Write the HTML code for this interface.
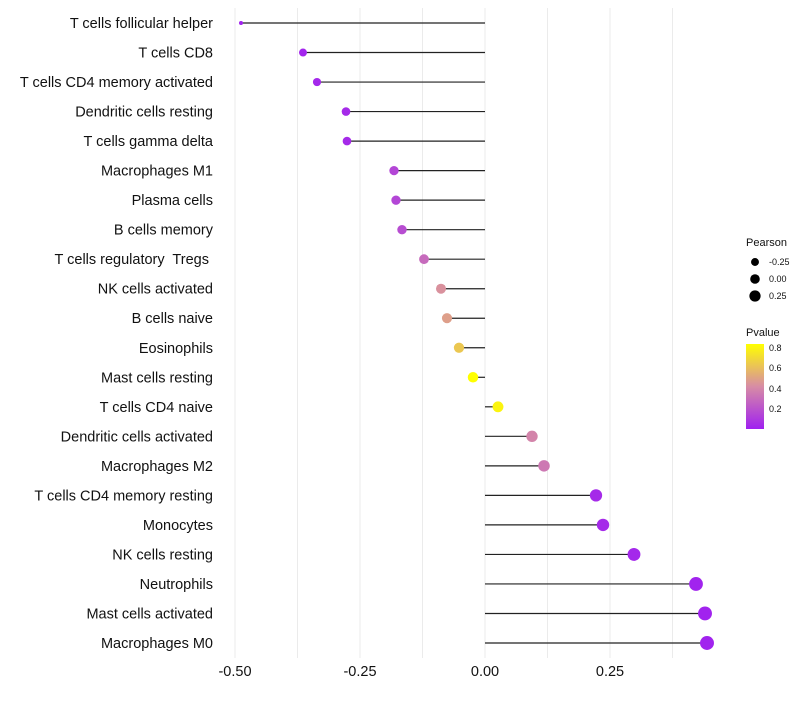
<!DOCTYPE html>
<html><head><meta charset="utf-8"><style>
body{margin:0;background:#fff;font-family:"Liberation Sans",sans-serif}
text{white-space:pre}
</style></head><body>
<svg id="c" width="800" height="700"></svg>
<script>
const categories=["T cells follicular helper","T cells CD8","T cells CD4 memory activated","Dendritic cells resting","T cells gamma delta","Macrophages M1","Plasma cells","B cells memory","T cells regulatory  Tregs ","NK cells activated","B cells naive","Eosinophils","Mast cells resting","T cells CD4 naive","Dendritic cells activated","Macrophages M2","T cells CD4 memory resting","Monocytes","NK cells resting","Neutrophils","Mast cells activated","Macrophages M0"];
const pearson=[-0.488,-0.364,-0.336,-0.278,-0.276,-0.182,-0.178,-0.166,-0.122,-0.088,-0.076,-0.052,-0.024,0.026,0.094,0.118,0.222,0.236,0.298,0.422,0.44,0.444];
const pvalues=[0.01,0.02,0.03,0.04,0.04,0.15,0.15,0.18,0.3,0.45,0.5,0.65,0.86,0.82,0.4,0.35,0.04,0.04,0.03,0.01,0.01,0.01];
const xTicks=[-0.5,-0.25,0,0.25];
const xTickLabels=["-0.50","-0.25","0.00","0.25"];
const minorTicks=[-0.375,-0.125,0.125,0.375];
const NS="http://www.w3.org/2000/svg";
const svg=document.getElementById('c');
const x=v=>485+v*500;
const y=i=>23+i*(620/21);
const rad=v=>v<-0.45?2:4+(v+0.36)*3.7;
function col(p){const t=Math.min(1,p/0.86);
const stops=[[160,32,240],[215,140,165],[255,255,0]];
const s=t<0.5?0:1,f=t<0.5?t*2:(t-0.5)*2,a=stops[s],b=stops[s+1];
return `rgb(${a.map((c,k)=>Math.round(c+(b[k]-c)*f)).join(',')})`;}
function mk(t,at,parent){const e=document.createElementNS(NS,t);for(const k in at)e.setAttribute(k,at[k]);(parent||svg).appendChild(e);return e;}
[...xTicks,...minorTicks].forEach(v=>{const l=mk('line',{x1:x(v),x2:x(v),y1:8,y2:658,stroke:'#ebebeb','stroke-width':1});

});
xTicks.forEach((v,i)=>{const t=mk('text',{x:x(v),y:676,'text-anchor':'middle','font-size':14.5,fill:'#111'});t.textContent=xTickLabels[i];

});
categories.forEach((c,i)=>{
const t=mk('text',{x:213,y:y(i)+5,'text-anchor':'end','font-size':14.5,fill:'#111'});t.textContent=c;


const l=mk('line',{x1:x(0),x2:x(pearson[i]),y1:y(i),y2:y(i),stroke:'#222','stroke-width':1.2});


const d=mk('circle',{cx:x(pearson[i]),cy:y(i),r:rad(pearson[i]),fill:col(pvalues[i])});


});
const lt=mk('text',{x:746,y:246,'font-size':11,fill:'#111'});lt.textContent='Pearson';


[[-0.25,262,'-0.25'],[0,279,'0.00'],[0.25,296,'0.25']].forEach(a=>{
const c=mk('circle',{cx:755,cy:a[1],r:rad(a[0])*0.9,fill:'#000'});


const t=mk('text',{x:769,y:a[1]+3,'font-size':9,fill:'#111'});t.textContent=a[2];

});
const pt=mk('text',{x:746,y:336,'font-size':11,fill:'#111'});pt.textContent='Pvalue';


const defs=mk('defs',{});const g=mk('linearGradient',{id:'gr',x1:0,y1:1,x2:0,y2:0},defs);
mk('stop',{offset:'0','stop-color':'#a020f0'},g);mk('stop',{offset:'0.5','stop-color':'#d78ca5'},g);mk('stop',{offset:'1','stop-color':'#ffff00'},g);
const bar=mk('rect',{x:746,y:344,width:18,height:85,fill:'url(#gr)'});


[[0.8,348],[0.6,368],[0.4,389],[0.2,409]].forEach(a=>{
const t=mk('text',{x:769,y:a[1]+3,'font-size':9,fill:'#111'});t.textContent=a[0].toFixed(1);

});
</script>
</body></html>
